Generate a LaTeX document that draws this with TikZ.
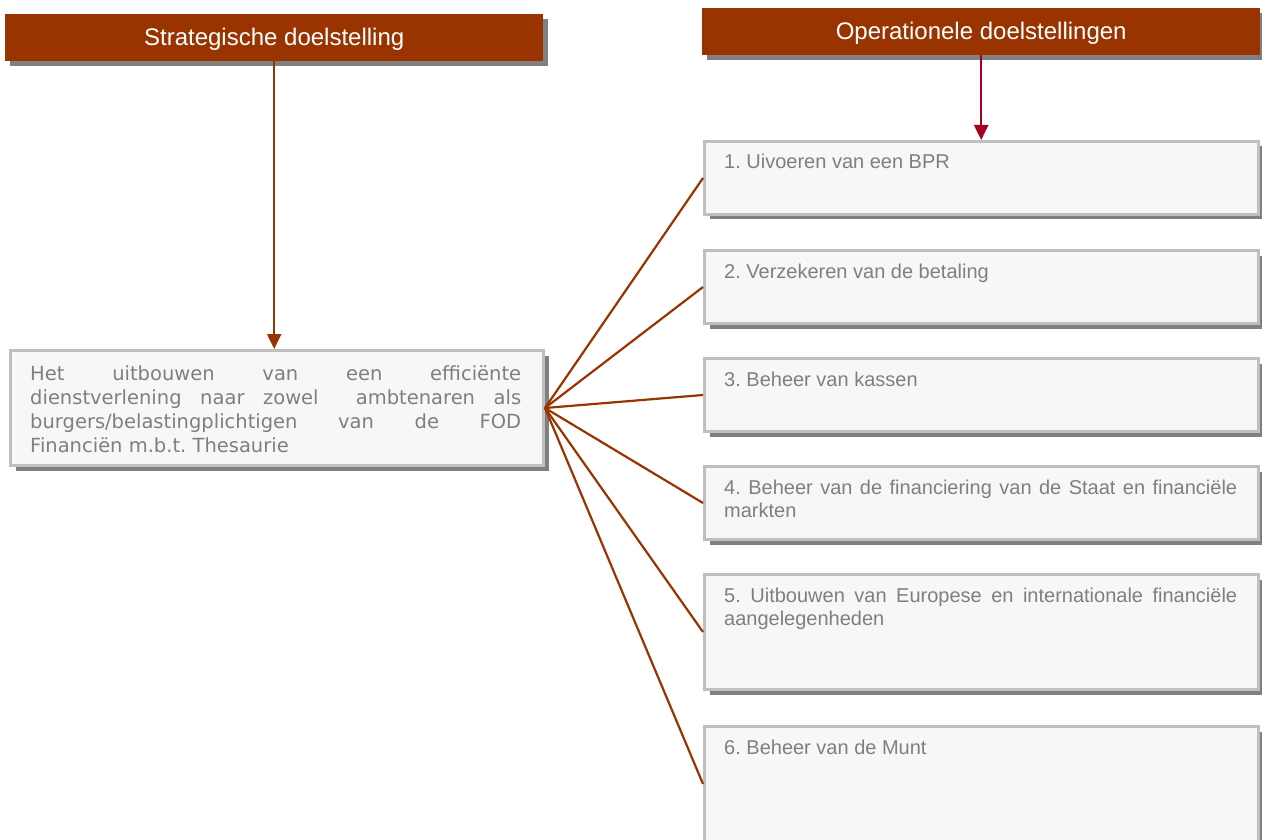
\documentclass[tikz,border=0pt]{standalone}
\usepackage{fontspec}
\setmainfont{Liberation Sans}
\newfontfamily\verdfont{DejaVu Sans}
\usetikzlibrary{arrows.meta,shadows}
\definecolor{hdr}{HTML}{993300}
\definecolor{shd}{HTML}{808080}
\definecolor{bord}{HTML}{BFBFBF}
\definecolor{boxfill}{HTML}{F7F7F7}
\definecolor{txt}{HTML}{7F7F7F}
\definecolor{crim}{HTML}{A50021}
\frenchspacing
\begin{document}
\begin{tikzpicture}[x=1pt,y=-1pt,
  myshadow/.style={drop shadow={shadow xshift=5pt, shadow yshift=-5pt, fill=shd, opacity=1}},
  hdrbox/.style={fill=hdr, draw=none, anchor=north west, inner sep=0pt, minimum height=47pt,
     text=white, font=\fontsize{24}{28}\selectfont, text height=18pt, text depth=2pt, myshadow},
  goalbox/.style={fill=boxfill, draw=bord, line width=3pt, anchor=north west, inner sep=0pt, myshadow},
  goaltext/.style={anchor=base west, inner sep=0pt, text=txt, font=\fontsize{20}{23}\selectfont},
  lefttext/.style={anchor=base west, inner sep=0pt, text=txt, font=\verdfont\fontsize{19.5}{24}\selectfont},
  conn/.style={draw=hdr, line width=2.2pt},
  tip/.style={-{Triangle[length=15pt,width=14pt]}}
]
\useasboundingbox (0,0) rectangle (1262,840);

% headers
\node[hdrbox, minimum width=538pt] (h1) at (5,14) {Strategische doelstelling};
\node[hdrbox, minimum width=558pt] (h2) at (702,8) {Operationele doelstellingen};

% left box
\node[goalbox, minimum width=533pt, minimum height=115pt] (L) at (9,349) {};
\node[lefttext] (tL) at (30,380) {\vtop{\baselineskip=24pt
  \hbox to 491pt{Het uitbouwen van een efficiënte}
  \hbox to 491pt{dienstverlening naar zowel~ ambtenaren als}
  \hbox to 491pt{burgers/belastingplichtigen van de FOD}
  \hbox{Financiën m.b.t. Thesaurie}}};

% right boxes
\node[goalbox, minimum width=554pt, minimum height=73pt] (o1) at (703,140) {};
\node[goalbox, minimum width=554pt, minimum height=73pt] (o2) at (703,249) {};
\node[goalbox, minimum width=554pt, minimum height=73pt] (o3) at (703,357) {};
\node[goalbox, minimum width=554pt, minimum height=73pt] (o4) at (703,465) {};
\node[goalbox, minimum width=554pt, minimum height=115pt] (o5) at (703,573) {};
\node[goalbox, minimum width=554pt, minimum height=115pt] (o6) at (703,725) {};

\node[goaltext] (t1) at (724,169) {1. Uivoeren van een BPR};
\node[goaltext] (t2) at (724,278) {2. Verzekeren van de betaling};
\node[goaltext] (t3) at (724,386) {3. Beheer van kassen};
\node[goaltext] (t4) at (724,494) {\vtop{\baselineskip=23pt
  \hbox to 513pt{4. Beheer van de financiering van de Staat en financiële}
  \hbox{markten}}};
\node[goaltext] (t5) at (724,602) {\vtop{\baselineskip=23pt
  \hbox to 513pt{5. Uitbouwen van Europese en internationale financiële}
  \hbox{aangelegenheden}}};
\node[goaltext] (t6) at (724,754) {6. Beheer van de Munt};

% arrows
\draw[conn, tip] (h1.south) -- (h1.south |- L.north);
\draw[draw=crim, line width=2.2pt, tip] (h2.south) -- (h2.south |- o1.north);

% fan
\foreach \i in {1,...,6} {
  \draw[conn] (L.east) -- (o\i.west);
}
\end{tikzpicture}
\end{document}
